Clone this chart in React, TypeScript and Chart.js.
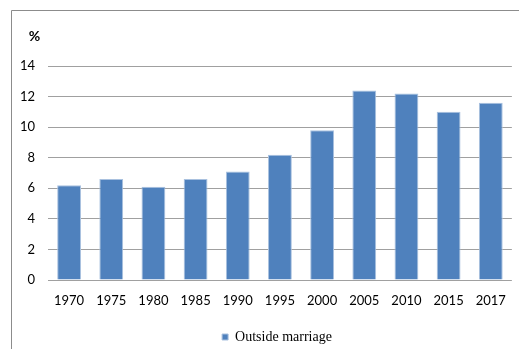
import React, { useEffect, useRef } from "react";
import { Chart, registerables } from "chart.js";

Chart.register(...registerables);

const years = ["1970", "1975", "1980", "1985", "1990", "1995", "2000", "2005", "2010", "2015", "2017"];
const outsideMarriage = [6.2, 6.6, 6.1, 6.6, 7.1, 8.2, 9.8, 12.4, 12.2, 11.0, 11.6];
const seriesLabel = "Outside marriage";
const unitLabel = "%";
const yMin = 0;
const yMax = 14;
const yStep = 2;

const framePlugin = {
  id: "frame",
  beforeDraw(chart: any) {
    const ctx = chart.ctx;
    ctx.save();
    ctx.fillStyle = "#ffffff";
    ctx.fillRect(0, 0, chart.width, chart.height);
    ctx.strokeStyle = "#8c8c8c";
    ctx.lineWidth = 1;
    ctx.beginPath();
    ctx.moveTo(11.5, chart.height + 5);
    ctx.lineTo(11.5, 10.5);
    ctx.lineTo(chart.width + 5, 10.5);
    ctx.stroke();
    ctx.restore();
    // place the legend under the plot area
    const lg = chart.legend;
    if (lg) {
      lg.left = 40;
      lg.right = 514;
      lg.width = lg.right - lg.left;
      const h = lg.bottom - lg.top;
      lg.top = chart.chartArea.bottom + 49;
      lg.bottom = lg.top + h;
    }
  },
  afterDraw(chart: any) {
    const ctx = chart.ctx;
    ctx.save();
    ctx.fillStyle = "#000000";
    ctx.font = "bold 14px Lato, 'Open Sans', sans-serif";
    ctx.textAlign = "center";
    ctx.textBaseline = "middle";
    ctx.fillText(unitLabel, 34.5, 36);
    ctx.restore();
  },
};

export default function App() {
  const ref = useRef<HTMLCanvasElement | null>(null);
  useEffect(() => {
    if (!ref.current) return;
    const chart = new Chart(ref.current, {
      type: "bar",
      data: {
        labels: years,
        datasets: [
          {
            label: seriesLabel,
            data: outsideMarriage,
            backgroundColor: "#4f81bd",
            borderColor: "#a9c1df",
            borderWidth: 1,
            categoryPercentage: 1,
            barPercentage: 0.565,
          },
        ],
      },
      options: {
        animation: false,
        responsive: false,
        maintainAspectRatio: false,
        layout: { padding: { top: 66, right: 3, bottom: 7, left: 0 } },
        plugins: {
          legend: {
            position: "bottom",
            labels: {
              boxWidth: 6,
              boxHeight: 6,
              color: "#000",
              padding: 1,
              font: { family: "'Liberation Serif', 'Times New Roman', serif", size: 14 },
            },
          },
          tooltip: { enabled: false },
        },
        scales: {
          x: {
            grid: { display: false, drawTicks: false, tickLength: 0 },
            border: { display: false },
            afterFit(scale: any) {
              scale.height = 37;
            },
            ticks: {
              color: "#000",
              padding: 13,
              font: { family: "Lato, sans-serif", size: 13 },
              maxRotation: 0,
            },
          },
          y: {
            min: yMin,
            max: yMax,
            afterFit(scale: any) {
              scale.width = 48;
            },
            grid: { color: "#a0a0a0", lineWidth: 1, drawTicks: false },
            border: { display: false },
            ticks: {
              stepSize: yStep,
              color: "#000",
              padding: 13,
              font: { family: "Lato, sans-serif", size: 13 },
            },
          },
        },
      },
      plugins: [framePlugin],
    });
    return () => chart.destroy();
  }, []);
  return (
    <div style={{ position: "fixed", left: 0, top: 0, width: 519, height: 349, background: "#fff" }}>
      <canvas ref={ref} width={519} height={349} style={{ display: "block" }} />
    </div>
  );
}
